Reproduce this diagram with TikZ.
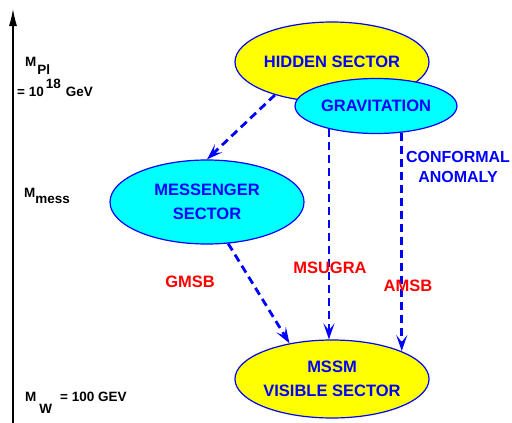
\documentclass[tikz,border=0pt]{standalone}
\usepackage{fontspec}
\setmainfont{Liberation Sans}
\usetikzlibrary{arrows.meta,shapes.geometric}

\definecolor{secyellow}{RGB}{255,255,0}
\definecolor{seccyan}{RGB}{0,255,255}
\definecolor{secblue}{RGB}{0,0,255}
\definecolor{schemered}{RGB}{255,0,0}

\tikzset{
  sector/.style={ellipse,draw=secblue,line width=1.2pt,inner sep=0pt,align=center,
    text=secblue,font=\fontsize{16.5}{24}\selectfont\bfseries},
  mediation/.style={draw=secblue,line width=2.8pt,dash pattern=on 8pt off 5pt,
    -{Stealth[length=16pt,width=11pt,inset=7pt]}},
  scheme/.style={text=schemered,font=\fontsize{16.5}{18}\selectfont\bfseries,inner sep=0pt},
  scalelabel/.style={anchor=base west,inner sep=0pt,font=\fontsize{13.5}{14}\selectfont\bfseries}
}

\begin{document}
\begin{tikzpicture}[x=1pt,y=1pt,yscale=-1,xscale=1]
  \useasboundingbox (0,0) rectangle (512,423);

  % energy axis
  \coordinate (axbot) at (13,423);
  \coordinate (axtop) at (13,9);
  \draw [line width=1.1pt,-{Latex[length=17pt,width=8pt]}] (axbot) -- (axtop);

  % scale labels
  \node [scalelabel] (mpl) at (25,66) {M\hspace{1pt}\raisebox{-9pt}{Pl}};
  \node [scalelabel] (mplval) at (17,96) {= 10\hspace{2pt}\raisebox{8pt}{18}\hspace{5pt}GeV};
  \node [scalelabel] (mmess) at (24,197) {M\raisebox{-6pt}{mess}};
  \node [scalelabel] (mw) at (25,401) {M\hspace{3pt}\raisebox{-12pt}{W}\hspace{8pt}= 100 GEV};

  % sectors
  \node [sector,fill=secyellow,minimum width=194pt,minimum height=80pt] (hidden) at (332,62) {HIDDEN SECTOR};
  \node [sector,fill=seccyan,minimum width=162pt,minimum height=55pt] (grav) at (376,106) {GRAVITATION};
  \node [sector,fill=seccyan,minimum width=194pt,minimum height=84pt] (mess) at (207,202) {MESSENGER\\SECTOR};
  \node [sector,fill=secyellow,minimum width=194pt,minimum height=78pt] (mssm) at (332,379) {MSSM\\VISIBLE SECTOR};

  % mediation
  \draw [mediation] (hidden.210) -- (mess.north);
  \draw [mediation] (grav.206) -- (grav.206 |- mssm.north);
  \draw [mediation] (grav.314) -- (grav.314 |- mssm.22);
  \draw [mediation] (mess.297) -- (mssm.140);

  % labels
  \node [text=secblue,font=\fontsize{16}{20}\selectfont\bfseries,align=center,inner sep=0pt] (conf) at (458,167) {CONFORMAL\\ANOMALY};
  \node [scheme] (gmsb) at (190,282) {GMSB};
  \node [scheme] (msugra) at (330,268) {MSUGRA};
  \node [scheme] (amsb) at (408,286) {AMSB};
\end{tikzpicture}
\end{document}
